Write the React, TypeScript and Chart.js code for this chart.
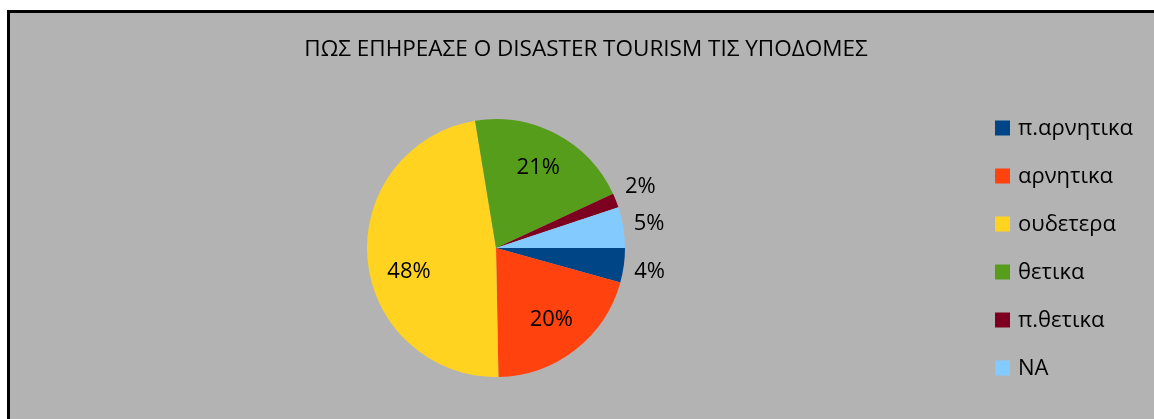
import React, { useEffect, useRef } from "react";
import { Chart, registerables } from "chart.js";

Chart.register(...registerables);

const TITLE = "ΠΩΣ ΕΠΗΡΕΑΣΕ Ο DISASTER TOURISM ΤΙΣ ΥΠΟΔΟΜΕΣ";
const categories = ["π.αρνητικα", "αρνητικα", "ουδετερα", "θετικα", "π.θετικα", "NA"];
const shares = [4.3, 20.4, 47.7, 20.7, 1.8, 5.1];
const colors = ["#004586", "#ff420e", "#ffd320", "#579d1c", "#7e0021", "#83caff"];

const FONT = '"Open Sans", "Noto Sans", sans-serif';

const W = 1144;
const H = 406;

const decorPlugin = {
  id: "decor",
  afterDraw(chart: any) {
    const ctx = chart.ctx as CanvasRenderingContext2D;
    ctx.save();
    ctx.fillStyle = "#000";
    // title
    ctx.font = `22.5px ${FONT}`;
    ctx.textAlign = "center";
    ctx.textBaseline = "middle";
    ctx.fillText(TITLE, 576, 37);

    // data labels
    const ds = chart.data.datasets[0];
    const vals = ds.data as number[];
    const total = vals.reduce((a, b) => a + b, 0);
    const meta = chart.getDatasetMeta(0);
    ctx.font = `22px ${FONT}`;
    meta.data.forEach((arc: any, i: number) => {
      const p = arc.getProps(["x", "y", "startAngle", "endAngle", "outerRadius"], true);
      let mid = (p.startAngle + p.endAngle) / 2;
      const pct = (vals[i] / total) * 100;
      const inside = pct >= 10;
      if (inside && pct > 40) mid -= 0.18; // Excel best-fit pushes the big label lower
      const r = inside ? p.outerRadius * 0.7 : p.outerRadius + 22;
      const x = p.x + Math.cos(mid) * r + (inside ? 0 : 4);
      const y = p.y + Math.sin(mid) * r + (inside ? 0 : (Math.sin(mid) < -0.3 ? -6 : Math.sin(mid) > 0.1 ? 3 : 0));
      ctx.textAlign = "center";
      ctx.textBaseline = "middle";
      ctx.fillText(Math.round(pct) + "%", x, y);
    });

    // legend
    ctx.font = `22px ${FONT}`;
    ctx.textAlign = "left";
    ctx.textBaseline = "middle";
    chart.data.labels.forEach((lab: string, i: number) => {
      const y = 115 + i * 48;
      ctx.fillStyle = (ds.backgroundColor as string[])[i];
      ctx.fillRect(985, y - 7.5, 15, 15);
      ctx.fillStyle = "#000";
      ctx.fillText(lab, 1008, y + 1);
    });
    ctx.restore();
  },
};

export default function App() {
  const ref = useRef<HTMLCanvasElement | null>(null);
  useEffect(() => {
    if (!ref.current) return;
    const chart = new Chart(ref.current, {
      type: "pie",
      data: {
        labels: categories,
        datasets: [
          {
            data: shares,
            backgroundColor: colors,
            borderWidth: 0,
          },
        ],
      },
      options: {
        responsive: false,
        animation: false,
        devicePixelRatio: 1,
        rotation: 90,
        layout: { padding: { left: 357, right: 529, top: 106, bottom: 42 } },
        plugins: {
          legend: { display: false },
          title: { display: false },
          tooltip: { enabled: false },
        },
      },
      plugins: [decorPlugin],
    });
    return () => chart.destroy();
  }, []);

  return (
    <div
      style={{
        position: "fixed",
        left: 7,
        top: 10,
        width: 1160,
        height: 420,
        border: "3px solid #000",
        background: "#b3b3b3",
        boxSizing: "border-box",
        overflow: "hidden",
      }}
    >
      <canvas ref={ref} width={W} height={H} style={{ display: "block", width: W, height: H }} />
    </div>
  );
}
